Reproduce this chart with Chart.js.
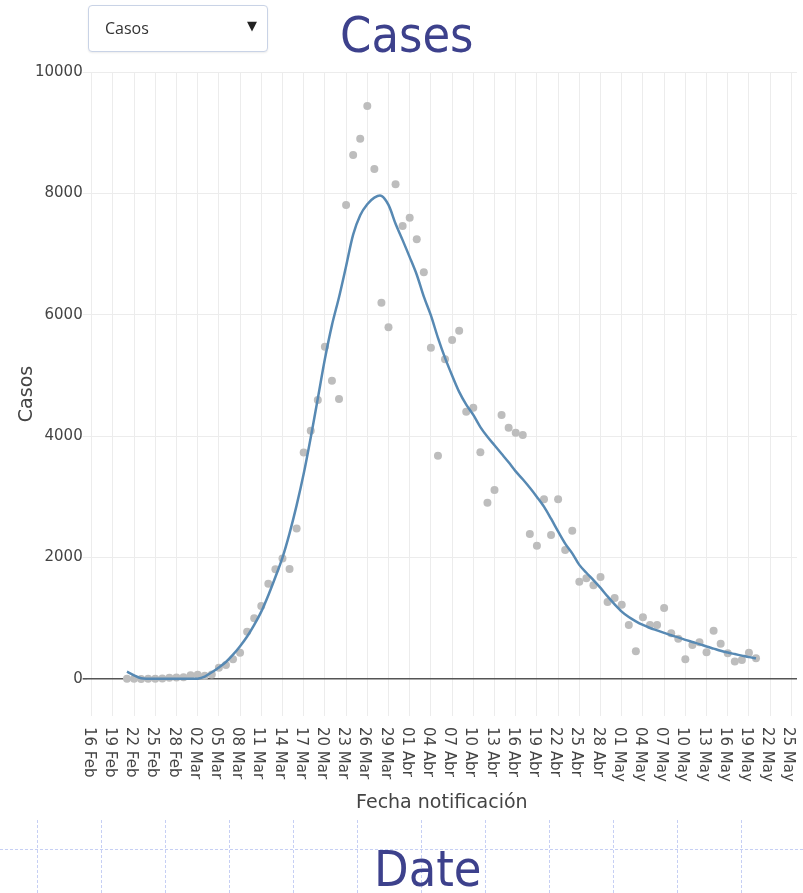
<!DOCTYPE html>
<html>
<head>
<meta charset="utf-8">
<script src="https://cdn.jsdelivr.net/npm/chart.js@4.4.0/dist/chart.umd.min.js"></script>
<style>
html,body{margin:0;padding:0;background:#fff;width:803px;height:893px;overflow:hidden;position:relative;}
#c{position:absolute;left:0;top:0;}
.sel{position:absolute;left:88px;top:5px;width:178px;height:45px;border:1px solid #c9d3e6;border-radius:4px;background:#fff;box-shadow:0 1px 2px rgba(0,0,0,0.08);z-index:2;}
.sel .t{position:absolute;left:16px;top:11px;font-family:'Open Sans',sans-serif;font-size:16px;color:#333;}
.sel .a{position:absolute;left:158px;top:12px;font-family:'DejaVu Sans',sans-serif;font-size:13px;color:#222;}
.big{position:absolute;font-family:'DejaVu Sans Condensed','DejaVu Sans',sans-serif;color:#3d418c;font-size:50px;line-height:1;white-space:nowrap;z-index:2;}
.dv{position:absolute;top:820px;height:73px;width:0;border-left:1px dashed #c6cff4;z-index:1;}
.dh{position:absolute;left:0;width:803px;top:849px;height:0;border-top:1px dashed #c6cff4;z-index:1;}
</style>
</head>
<body>
<canvas id="c" width="803" height="893"></canvas>
<div class="sel"><span class="t">Casos</span><span class="a">▼</span></div>
<div class="big" style="left:340px;top:10px;">Cases</div>
<div class="big" style="left:374px;top:844px;">Date</div>
<div class="dh"></div>
<script>
// ---------- DATA ----------
const fechas = [
  '21 Feb','22 Feb','23 Feb','24 Feb','25 Feb','26 Feb','27 Feb','28 Feb','29 Feb',
  '01 Mar','02 Mar','03 Mar','04 Mar','05 Mar','06 Mar','07 Mar','08 Mar','09 Mar','10 Mar',
  '11 Mar','12 Mar','13 Mar','14 Mar','15 Mar','16 Mar','17 Mar','18 Mar','19 Mar','20 Mar',
  '21 Mar','22 Mar','23 Mar','24 Mar','25 Mar','26 Mar','27 Mar','28 Mar','29 Mar','30 Mar','31 Mar',
  '01 Abr','02 Abr','03 Abr','04 Abr','05 Abr','06 Abr','07 Abr','08 Abr','09 Abr','10 Abr',
  '11 Abr','12 Abr','13 Abr','14 Abr','15 Abr','16 Abr','17 Abr','18 Abr','19 Abr','20 Abr',
  '21 Abr','22 Abr','23 Abr','24 Abr','25 Abr','26 Abr','27 Abr','28 Abr','29 Abr','30 Abr',
  '01 May','02 May','03 May','04 May','05 May','06 May','07 May','08 May','09 May','10 May',
  '11 May','12 May','13 May','14 May','15 May','16 May','17 May','18 May','19 May','20 May'
];
const ejeDias = ['16 Feb','17 Feb','18 Feb','19 Feb','20 Feb']
  .concat(fechas, ['21 May','22 May','23 May','24 May','25 May']);

const casos = [
  2, 3, 1, 2, 5, 6, 20, 25, 30,
  60, 70, 55, 75, 186, 230, 325, 433, 780, 1000,
  1203, 1570, 1808, 1985, 1810, 2480, 3730, 4090, 4596, 5475,
  4914, 4613, 7809, 8633, 8901, 9440, 8402, 6200, 5794, 8150, 7463,
  7600, 7244, 6700, 5458, 3679, 5267, 5585, 5738, 4404, 4470,
  3734, 2905, 3114, 4349, 4140, 4058, 4020, 2389, 2196, 2960,
  2372, 2960, 2125, 2443, 1603, 1659, 1543, 1680, 1269, 1334,
  1224, 890, 456, 1016, 890, 890, 1170, 753, 664, 325,
  560, 604, 439, 796, 582, 423, 286, 313, 434, 341
];

const tendencia = [
  120, 60, 12, 5, 3, 3, 3, 3, 3,
  3, 5, 40, 110, 190, 280, 400, 540, 700, 890,
  1110, 1380, 1680, 2000, 2400, 2860, 3380, 3980, 4620, 5270,
  5830, 6290, 6800, 7320, 7640, 7820, 7930, 7960, 7810, 7500, 7230,
  6950, 6660, 6300, 5990, 5620, 5290, 5000, 4730, 4520, 4350,
  4150, 3990, 3850, 3710, 3570, 3420, 3290, 3150, 3000, 2840,
  2640, 2430, 2230, 2070, 1880, 1750, 1630, 1500, 1360, 1230,
  1110, 1020, 950, 890, 840, 800, 760, 720, 685, 645,
  610, 575, 535, 500, 465, 435, 410, 385, 360, 340
];

const tickLabels = ['16 Feb','19 Feb','22 Feb','25 Feb','28 Feb','02 Mar','05 Mar','08 Mar','11 Mar',
  '14 Mar','17 Mar','20 Mar','23 Mar','26 Mar','29 Mar','01 Abr','04 Abr','07 Abr','10 Abr',
  '13 Abr','16 Abr','19 Abr','22 Abr','25 Abr','28 Abr','01 May','04 May','07 May','10 May',
  '13 May','16 May','19 May','22 May','25 May'];
const yTicks = [0, 2000, 4000, 6000, 8000, 10000];

// ---------- decorative dashed guides ----------
[37,101,165,229,293,357,421,485,549,613,677,741].forEach(function(x){
  const d = document.createElement('div'); d.className='dv'; d.style.left = x+'px'; document.body.appendChild(d);
});

// ---------- CHART ----------
const FONT = "'DejaVu Sans', Verdana, sans-serif";
const xLabelsPlugin = {
  id: 'xLabels',
  afterDraw(chart) {
    const sx = chart.scales.x;
    const ctx = chart.ctx;
    ctx.save();
    ctx.fillStyle = '#444';
    ctx.font = '15px ' + FONT;
    ctx.textAlign = 'left';
    ctx.textBaseline = 'middle';
    sx.ticks.forEach(function(t){
      const x = sx.getPixelForValue(t.value);
      ctx.save();
      ctx.translate(x - 3, 727);
      ctx.rotate(Math.PI / 2);
      ctx.fillText(ejeDias[t.value], 0, 0);
      ctx.restore();
    });
    ctx.restore();
  }
};

new Chart(document.getElementById('c'), {
  data: {
    datasets: [
      {
        type: 'line',
        label: 'Tendencia',
        data: tendencia.map((v, i) => ({x: ejeDias.indexOf(fechas[i]), y: v})),
        borderColor: '#5789b3',
        borderWidth: 2.5,
        pointRadius: 0,
        tension: 0.3,
        fill: false,
        order: 1
      },
      {
        type: 'scatter',
        label: 'Casos',
        data: casos.map((v, i) => ({x: ejeDias.indexOf(fechas[i]), y: v})),
        backgroundColor: '#bdbdbd',
        borderWidth: 0,
        pointRadius: 4,
        order: 2
      }
    ]
  },
  options: {
    responsive: false,
    animation: false,
    layout: {padding: {top: 72, right: 6, left: 0, bottom: 0}},
    plugins: {legend: {display: false}, tooltip: {enabled: false}},
    scales: {
      x: {
        type: 'linear',
        min: -0.7,
        max: 99.8,
        afterBuildTicks: s => { s.ticks = tickLabels.map(l => ({value: ejeDias.indexOf(l)})); },
        afterFit: s => { s.height = 177; },
        ticks: {display: false},
        grid: {color: '#ececec', lineWidth: 1, drawTicks: false},
        border: {display: false},
        title: {display: true, text: 'Fecha notificación', color: '#444',
                font: {family: FONT, size: 19}, padding: {top: 0, bottom: 79}}
      },
      y: {
        min: -610,
        max: 10000,
        afterBuildTicks: s => { s.ticks = yTicks.map(v => ({value: v})); },
        afterFit: s => { s.width = 86.7; },
        ticks: {color: '#444', font: {family: FONT, size: 15}, padding: 0,
                callback: v => String(v)},
        grid: {
          color: c => (c.tick && c.tick.value === 0) ? '#555' : '#ececec',
          lineWidth: c => (c.tick && c.tick.value === 0) ? 1.6 : 1,
          tickLength: 4
        },
        border: {display: false},
        title: {display: true, text: 'Casos', color: '#444',
                font: {family: FONT, size: 19}, padding: {top: 16}}
      }
    }
  },
  plugins: [xLabelsPlugin]
});
</script>
</body>
</html>
